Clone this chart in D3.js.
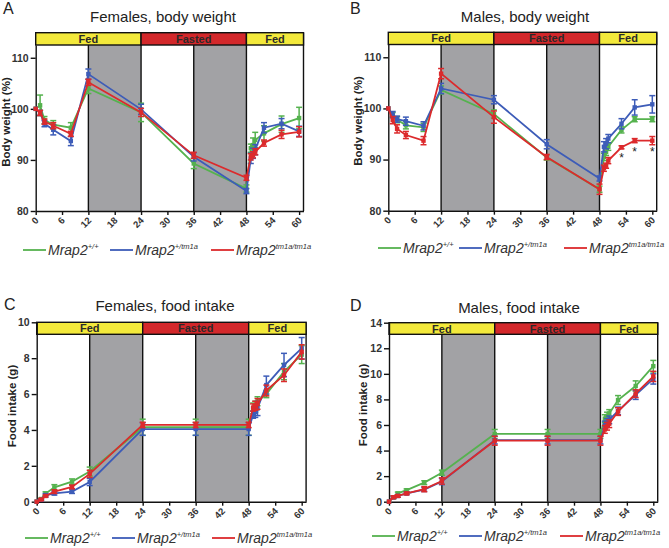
<!DOCTYPE html>
<html><head><meta charset="utf-8">
<script src="https://cdn.jsdelivr.net/npm/d3@7"></script>
<style>body{margin:0;background:#fff;} svg{display:block;font-family:"Liberation Sans",Arial,sans-serif;}</style>
</head><body><svg id="c" width="669" height="548"></svg>
<script>
// ---------- data ----------
const xTicks = [0, 6, 12, 18, 24, 30, 36, 42, 48, 54, 60];
const genotypes = ["+/+", "+/tm1a", "tm1a/tm1a"];
const phases = [{s: 0, e: 24, label: "Fed"}, {s: 24, e: 48, label: "Fasted"}, {s: 48, e: 61, label: "Fed"}];
const darkPeriods = [[12, 24], [36, 48]];

const timesA = [0, 1, 2, 4, 8, 12, 24, 36, 48, 49, 49.5, 50, 52, 56, 60];
const timesB = [0, 1, 2, 4, 8, 12, 24, 36, 48, 49, 49.5, 50, 53, 56, 60];
const timesC = [0, 1, 2, 4, 8, 12, 24, 36, 48, 49, 49.5, 50, 52, 56, 60];
const timesD = [0, 1, 2, 4, 8, 12, 24, 36, 48, 49, 49.5, 50, 52, 56, 60];

// A: females body weight (%)
const femBW_wt   = [100, 100.7, 97.8, 96.9, 96.3, 104.0, 99.3, 89.3, 84.4, 92.3, 92.9, 93.9, 95.2, 97.0, 98.2];
const femBW_het  = [100, 99.2, 97.1, 95.9, 93.7, 106.8, 99.9, 90.6, 83.9, 90.3, 91.3, 92.0, 96.3, 97.1, 95.6];
const femBW_ko   = [100, 99.2, 97.5, 96.7, 95.1, 105.2, 99.3, 90.9, 86.5, 90.6, 91.0, 91.6, 93.3, 95.0, 95.5];
const femBW_wtErr  = [0, 2.0, 0.7, 0.8, 1.0, 1.0, 1.8, 1.0, 0.7, 0.8, 1.4, 1.5, 1.5, 1.6, 2.1];
const femBW_hetErr = [0, 0.5, 0.6, 1.0, 0.9, 1.0, 1.0, 0.8, 0.5, 1.0, 1.0, 1.0, 1.0, 1.0, 1.0];
const femBW_koErr  = [0, 0.5, 0.5, 0.6, 0.5, 0.6, 0.8, 0.6, 0.5, 0.6, 0.6, 0.6, 0.6, 0.8, 1.0];

// B: males body weight (%)
const malBW_wt   = [100, 98.7, 97.8, 96.7, 96.3, 103.6, 98.9, 90.4, 84.2, 90.5, 91.5, 92.5, 95.8, 97.9, 97.9];
const malBW_het  = [100, 98.8, 97.9, 97.5, 96.6, 103.9, 101.7, 93.0, 86.3, 92.5, 93.1, 94.1, 97.0, 100.2, 100.8];
const malBW_ko   = [100, 97.7, 96.0, 94.8, 93.7, 106.8, 98.3, 90.5, 84.2, 88.3, 88.8, 89.8, 92.4, 93.7, 93.7];
const malBW_wtErr  = [0, 0.5, 0.6, 0.7, 0.8, 0.8, 0.8, 0.5, 0.6, 0.7, 0.7, 0.7, 0.6, 0.5, 0.5];
const malBW_hetErr = [0, 0.6, 0.6, 0.8, 0.8, 1.0, 0.8, 0.9, 0.5, 1.0, 1.0, 0.8, 1.0, 1.5, 1.7];
const malBW_koErr  = [0, 0.7, 0.8, 0.7, 0.8, 1.0, 1.2, 0.5, 1.0, 0.6, 0.5, 0.6, 0.3, 0.4, 0.8];
const malBW_signif = [53, 56, 60];

// C: females food intake (g)
const femFI_wt   = [0, 0.15, 0.45, 0.8, 1.12, 1.68, 4.15, 4.15, 4.15, 5.2, 5.3, 5.6, 6.0, 7.25, 8.2];
const femFI_het  = [0, 0.1, 0.35, 0.47, 0.56, 1.1, 4.05, 4.05, 4.05, 4.85, 5.0, 5.2, 6.5, 7.62, 8.55];
const femFI_ko   = [0, 0.12, 0.32, 0.56, 0.82, 1.55, 4.28, 4.28, 4.28, 5.25, 5.35, 5.45, 6.2, 7.05, 8.35];
const femFI_wtErr  = [0, 0.05, 0.1, 0.15, 0.15, 0.25, 0.45, 0.45, 0.45, 0.3, 0.3, 0.25, 0.2, 0.45, 0.5];
const femFI_hetErr = [0, 0.05, 0.1, 0.1, 0.1, 0.2, 0.35, 0.35, 0.35, 0.2, 0.3, 0.4, 0.5, 0.65, 0.6];
const femFI_koErr  = [0, 0.05, 0.05, 0.1, 0.1, 0.2, 0.15, 0.15, 0.15, 0.2, 0.25, 0.3, 0.3, 0.35, 0.4];

// D: males food intake (g)
const malFI_wt   = [0, 0.35, 0.65, 0.9, 1.49, 2.27, 5.3, 5.3, 5.3, 6.5, 6.7, 6.9, 7.95, 9.05, 10.6];
const malFI_het  = [0, 0.35, 0.45, 0.65, 0.95, 1.58, 4.82, 4.82, 4.82, 6.0, 6.2, 6.4, 7.1, 8.35, 9.6];
const malFI_ko   = [0, 0.35, 0.45, 0.65, 0.98, 1.62, 4.77, 4.77, 4.77, 5.65, 5.9, 6.1, 7.05, 8.45, 9.8];
const malFI_wtErr  = [0, 0.1, 0.1, 0.1, 0.15, 0.2, 0.35, 0.35, 0.35, 0.3, 0.3, 0.3, 0.35, 0.4, 0.45];
const malFI_hetErr = [0, 0.1, 0.1, 0.1, 0.15, 0.25, 0.3, 0.3, 0.3, 0.3, 0.3, 0.3, 0.3, 0.35, 0.4];
const malFI_koErr  = [0, 0.1, 0.1, 0.1, 0.2, 0.25, 0.35, 0.35, 0.35, 0.3, 0.3, 0.3, 0.3, 0.3, 0.4];

// ---------- styles ----------
const seriesColors = ["#55b24e", "#3d5cb8", "#dc2a2c"];
const yellow = "#f3e93b", fastRed = "#d3282b", nightGray = "#a2a2a5";

const svg = d3.select("#c");

function drawPanel(cfg) {
  const g = svg.append("g");
  const x = d3.scaleLinear().domain([0, 61]).range([cfg.x0, cfg.x61]);
  const y = d3.scaleLinear().domain(cfg.yDom).range([cfg.yBot, cfg.yTop]);
  const bandTop = cfg.bandTop, bandBot = cfg.bandBot;

  // dark periods
  g.selectAll(".night").data(darkPeriods).join("rect")
    .attr("x", d => x(d[0])).attr("width", d => x(d[1]) - x(d[0]))
    .attr("y", bandBot).attr("height", cfg.yBot - bandBot)
    .attr("fill", nightGray);

  // vertical separators
  g.selectAll(".vl").data([12, 24, 36, 48, 61]).join("line")
    .attr("x1", d => x(d)).attr("x2", d => x(d))
    .attr("y1", bandTop).attr("y2", cfg.yBot)
    .attr("stroke", "#111").attr("stroke-width", 1.4);

  // phase band
  g.selectAll(".band").data(phases).join("rect")
    .attr("x", d => x(d.s)).attr("width", d => x(d.e) - x(d.s))
    .attr("y", bandTop).attr("height", bandBot - bandTop)
    .attr("fill", (d, i) => i === 1 ? fastRed : yellow)
    .attr("stroke", "#111").attr("stroke-width", 1.4);
  g.selectAll(".bandlab").data(phases).join("text")
    .attr("x", d => (x(d.s) + x(d.e)) / 2).attr("y", (bandTop + bandBot) / 2 + 4)
    .attr("text-anchor", "middle").attr("font-size", 11).attr("font-weight", "bold")
    .attr("fill", "#2a2a2a").text(d => d.label);

  // axes
  const ya = g.append("g").attr("transform", `translate(${cfg.x0},0)`)
    .call(d3.axisLeft(y).tickValues(cfg.yTicks).tickSize(5).tickPadding(2).tickSizeOuter(0));
  ya.select(".domain").attr("stroke", "#111").attr("stroke-width", 1.4);
  ya.selectAll(".tick line").attr("stroke", "#111").attr("stroke-width", 1.4);
  ya.selectAll(".tick text").attr("font-size", 10.5).attr("font-weight", "bold").attr("fill", "#333")
    .attr("font-family", "Liberation Sans, Arial, sans-serif");

  const xa = g.append("g").attr("transform", `translate(0,${cfg.yBot})`)
    .call(d3.axisBottom(x).tickValues(xTicks).tickSize(4).tickSizeOuter(0));
  xa.select(".domain").attr("stroke", "#111").attr("stroke-width", 1.4);
  xa.selectAll(".tick line").attr("stroke", "#111").attr("stroke-width", 1.4);
  xa.selectAll(".tick text").attr("font-size", 9.5).attr("font-weight", "bold").attr("fill", "#333")
    .attr("font-family", "Liberation Sans, Arial, sans-serif")
    .attr("text-anchor", "end").attr("y", 0).attr("dy", 0)
    .attr("transform", "translate(3,10) rotate(-45)");

  // series
  cfg.series.forEach((s, i) => {
    const pts = cfg.times.map((t, j) => ({t, v: s.v[j], e: s.e[j]}));
    const col = seriesColors[i];
    const sg = g.append("g");
    sg.append("path").datum(pts)
      .attr("d", d3.line().x(d => x(d.t)).y(d => y(d.v)))
      .attr("fill", "none").attr("stroke", col).attr("stroke-width", 1.8);
    const eb = sg.selectAll(".eb").data(pts.filter(d => d.e > 0)).join("g");
    eb.append("line").attr("x1", d => x(d.t)).attr("x2", d => x(d.t))
      .attr("y1", d => y(d.v - d.e)).attr("y2", d => y(d.v + d.e))
      .attr("stroke", col).attr("stroke-width", 1.5);
    [1, -1].forEach(sg2 => {
      eb.append("line").attr("x1", d => x(d.t) - 3).attr("x2", d => x(d.t) + 3)
        .attr("y1", d => y(d.v + sg2 * d.e)).attr("y2", d => y(d.v + sg2 * d.e))
        .attr("stroke", col).attr("stroke-width", 1.5);
    });
    sg.selectAll(".mk").data(pts).join("rect")
      .attr("x", d => x(d.t) - 2.2).attr("y", d => y(d.v) - 2.2)
      .attr("width", 4.4).attr("height", 4.4).attr("fill", col);
  });

  // significance
  if (cfg.signif) {
    const ko = cfg.series[2];
    g.selectAll(".ast").data(cfg.signif).join("text")
      .attr("x", d => x(d)).attr("y", d => y(ko.v[cfg.times.indexOf(d)]) + 15)
      .attr("text-anchor", "middle").attr("font-size", 12).attr("fill", "#222").text("*");
  }

  // titles
  svg.append("text").attr("x", cfg.titleX).attr("y", cfg.titleY).attr("text-anchor", "middle")
    .attr("font-size", 15).attr("fill", "#222").text(cfg.title);
  svg.append("text").attr("x", cfg.letterX).attr("y", cfg.letterY)
    .attr("font-size", 16).attr("fill", "#222").text(cfg.letter);
  svg.append("text").attr("transform", `translate(${cfg.yLabX},${cfg.yLabY}) rotate(-90)`)
    .attr("text-anchor", "middle").attr("font-size", 11.5).attr("font-weight", "bold")
    .attr("fill", "#222").text(cfg.yLabel);

  // legend
  genotypes.forEach((gt, i) => {
    const lx = cfg.legX[i];
    svg.append("line").attr("x1", lx).attr("x2", lx + 23)
      .attr("y1", cfg.legY).attr("y2", cfg.legY)
      .attr("stroke", seriesColors[i]).attr("stroke-width", 1.8);
    const t = svg.append("text").attr("x", lx + 25).attr("y", cfg.legY + 5)
      .attr("font-size", 14).attr("font-style", "italic").attr("fill", "#333");
    t.append("tspan").text("Mrap2");
    t.append("tspan").attr("font-size", 7.5).attr("dy", -6).text(gt);
  });
}

drawPanel({
  letter: "A", letterX: 3, letterY: 14, title: "Females, body weight", titleX: 163, titleY: 22,
  x0: 35.7, x61: 303.5, yDom: [80, 112.5], yBot: 211, yTop: 45, bandTop: 32.7, bandBot: 45,
  yTicks: [80, 90, 100, 110], yLabel: "Body weight (%)", yLabX: 10, yLabY: 122,
  times: timesA,
  series: [{v: femBW_wt, e: femBW_wtErr}, {v: femBW_het, e: femBW_hetErr}, {v: femBW_ko, e: femBW_koErr}],
  legX: [23, 110, 211], legY: 250
});
drawPanel({
  letter: "B", letterX: 350, letterY: 14, title: "Males, body weight", titleX: 525, titleY: 22,
  x0: 388.3, x61: 656.7, yDom: [80, 112.5], yBot: 210.7, yTop: 44.5, bandTop: 32.3, bandBot: 44.5,
  yTicks: [80, 90, 100, 110], yLabel: "Body weight (%)", yLabX: 362, yLabY: 121,
  times: timesB, signif: malBW_signif,
  series: [{v: malBW_wt, e: malBW_wtErr}, {v: malBW_het, e: malBW_hetErr}, {v: malBW_ko, e: malBW_koErr}],
  legX: [378, 459, 564], legY: 248
});
drawPanel({
  letter: "C", letterX: 4, letterY: 310, title: "Females, food intake", titleX: 165, titleY: 311,
  x0: 36.7, x61: 306.1, yDom: [0, 10], yBot: 501.7, yTop: 322.3, bandTop: 322.3, bandBot: 334.3,
  yTicks: [0, 2, 4, 6, 8, 10], yLabel: "Food intake (g)", yLabX: 16, yLabY: 406,
  times: timesC,
  series: [{v: femFI_wt, e: femFI_wtErr}, {v: femFI_het, e: femFI_hetErr}, {v: femFI_ko, e: femFI_koErr}],
  legX: [25, 112, 212], legY: 538
});
drawPanel({
  letter: "D", letterX: 350, letterY: 311, title: "Males, food intake", titleX: 519, titleY: 313,
  x0: 389, x61: 657.7, yDom: [0, 14], yBot: 501.7, yTop: 322.7, bandTop: 322.7, bandBot: 334.3,
  yTicks: [0, 2, 4, 6, 8, 10, 12, 14], yLabel: "Food intake (g)", yLabX: 367, yLabY: 405,
  times: timesD,
  series: [{v: malFI_wt, e: malFI_wtErr}, {v: malFI_het, e: malFI_hetErr}, {v: malFI_ko, e: malFI_koErr}],
  legX: [372, 459, 560], legY: 536
});
</script></body></html>
